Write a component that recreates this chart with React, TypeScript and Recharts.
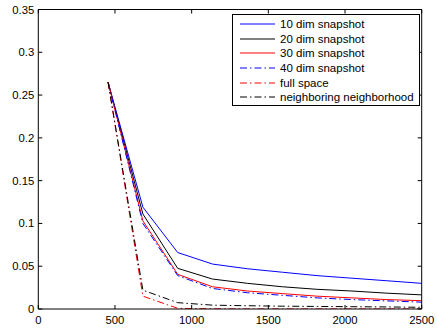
import React from "react";
import { Legend, Line, LineChart, XAxis, YAxis } from "recharts";

// sample sizes (x) and error curves
const X = [455, 682, 909, 1136, 1364, 1591, 1818, 2045, 2273, 2500];
const DIM10 = [0.265, 0.119, 0.066, 0.0525, 0.047, 0.043, 0.039, 0.036, 0.033, 0.03];
const DIM20 = [0.265, 0.111, 0.0475, 0.035, 0.03, 0.026, 0.023, 0.021, 0.0185, 0.0165];
const DIM30 = [0.265, 0.103, 0.0405, 0.026, 0.021, 0.018, 0.015, 0.013, 0.011, 0.0097];
const DIM40 = [0.265, 0.1, 0.039, 0.024, 0.019, 0.016, 0.013, 0.011, 0.0095, 0.008];
const FULL = [0.265, 0.015, 0.0008, 0.0002, 0.0001, 0.0001, 0.0001, 0.0001, 0.0001, 0.0001];
const NEIGH = [0.265, 0.022, 0.0074, 0.0045, 0.0038, 0.0033, 0.003, 0.0027, 0.0024, 0.002];

const X_TICKS = [0, 500, 1000, 1500, 2000, 2500];
const Y_TICKS = [0, 0.05, 0.1, 0.15, 0.2, 0.25, 0.3, 0.35];

const FONT = '"Liberation Sans", Arial, Helvetica, sans-serif';
const DASHDOT = "7 3 1.5 3";

const SERIES = [
  { key: "d10", name: "10 dim snapshot", color: "#0000ff", dash: undefined as string | undefined },
  { key: "d20", name: "20 dim snapshot", color: "#000000", dash: undefined },
  { key: "d30", name: "30 dim snapshot", color: "#ff0000", dash: undefined },
  { key: "d40", name: "40 dim snapshot", color: "#0000ff", dash: DASHDOT },
  { key: "full", name: "full space", color: "#ff0000", dash: DASHDOT },
  { key: "neigh", name: "neighboring neighborhood", color: "#000000", dash: DASHDOT },
];

const data = X.map((x, i) => ({
  x,
  d10: DIM10[i],
  d20: DIM20[i],
  d30: DIM30[i],
  d40: DIM40[i],
  full: FULL[i],
  neigh: NEIGH[i],
}));

const TICK_LEN = 4;

const BottomTick = (props: any) => {
  const { x, y, payload } = props;
  return (
    <g>
      <line x1={x} x2={x} y1={y} y2={y - TICK_LEN} stroke="#000" />
      <text x={x} y={y + 15} textAnchor="middle" fontSize={11.3} fontFamily={FONT} fill="#000">
        {payload.value}
      </text>
    </g>
  );
};

const TopTick = (props: any) => {
  const { x, y } = props;
  return <line x1={x} x2={x} y1={y} y2={y + TICK_LEN} stroke="#000" />;
};

const LeftTick = (props: any) => {
  const { x, y, payload } = props;
  return (
    <g>
      <line x1={x} x2={x + TICK_LEN} y1={y} y2={y} stroke="#000" />
      <text x={x - 4} y={y + 4} textAnchor="end" fontSize={11.3} fontFamily={FONT} fill="#000">
        {payload.value}
      </text>
    </g>
  );
};

const RightTick = (props: any) => {
  const { x, y } = props;
  return <line x1={x} x2={x - TICK_LEN} y1={y} y2={y} stroke="#000" />;
};

const renderLegend = () => (
  <div
    style={{
      width: 188,
      height: 92,
      border: "1px solid #000",
      background: "#fff",
      boxSizing: "border-box",
      paddingTop: 2,
      fontFamily: FONT,
      fontSize: 11.5,
    }}
  >
    {SERIES.map((s) => (
      <div key={s.key} style={{ display: "flex", alignItems: "center", height: 14.6 }}>
        <svg width={47} height={10} style={{ flexShrink: 0 }}>
          <line
            x1={7}
            x2={42}
            y1={5}
            y2={5}
            stroke={s.color}
            strokeWidth={1}
            strokeDasharray={s.dash}
          />
        </svg>
        <span style={{ lineHeight: "14px", whiteSpace: "nowrap" }}>{s.name}</span>
      </div>
    ))}
  </div>
);

export default function App() {
  return (
    <div style={{ position: "fixed", left: 0, top: 0, width: 437, height: 331, background: "#fff" }}>
      <LineChart
        width={437}
        height={331}
        data={data}
        margin={{ top: 8.5, right: 14.3, bottom: 0, left: 0 }}
      >
        <XAxis
          dataKey="x"
          type="number"
          domain={[0, 2500]}
          ticks={X_TICKS}
          allowDataOverflow
          height={22}
          tickSize={0}
          tickMargin={0}
          tickLine={false}
          axisLine={{ stroke: "#000" }}
          tick={BottomTick}
          interval={0}
        />
        <XAxis
          xAxisId="top"
          dataKey="x"
          orientation="top"
          type="number"
          domain={[0, 2500]}
          ticks={X_TICKS}
          allowDataOverflow
          height={1}
          tickSize={0}
          tickMargin={0}
          tickLine={false}
          axisLine={{ stroke: "#000" }}
          tick={TopTick}
          interval={0}
        />
        <YAxis
          type="number"
          domain={[0, 0.35]}
          ticks={Y_TICKS}
          allowDataOverflow
          width={38.3}
          tickSize={0}
          tickMargin={0}
          tickLine={false}
          axisLine={{ stroke: "#000" }}
          tick={LeftTick}
          interval={0}
        />
        <YAxis
          yAxisId="right"
          orientation="right"
          type="number"
          domain={[0, 0.35]}
          ticks={Y_TICKS}
          allowDataOverflow
          width={1}
          tickSize={0}
          tickMargin={0}
          tickLine={false}
          axisLine={{ stroke: "#000" }}
          tick={RightTick}
          interval={0}
        />
        {/* invisible series so the mirrored top/right frame axes get drawn */}
        <Line
          xAxisId="top"
          yAxisId="right"
          dataKey="d10"
          stroke="none"
          dot={false}
          activeDot={false}
          legendType="none"
          isAnimationActive={false}
        />
        {SERIES.map((s) => (
          <Line
            key={s.key}
            dataKey={s.key}
            name={s.name}
            type="linear"
            stroke={s.color}
            strokeWidth={1}
            strokeDasharray={s.dash}
            dot={false}
            activeDot={false}
            isAnimationActive={false}
          />
        ))}
        <Legend
          layout="horizontal"
          verticalAlign="middle"
          align="center"
          content={renderLegend}
          wrapperStyle={{ left: 232, top: 14, width: 188, height: 92 }}
        />
      </LineChart>
    </div>
  );
}
